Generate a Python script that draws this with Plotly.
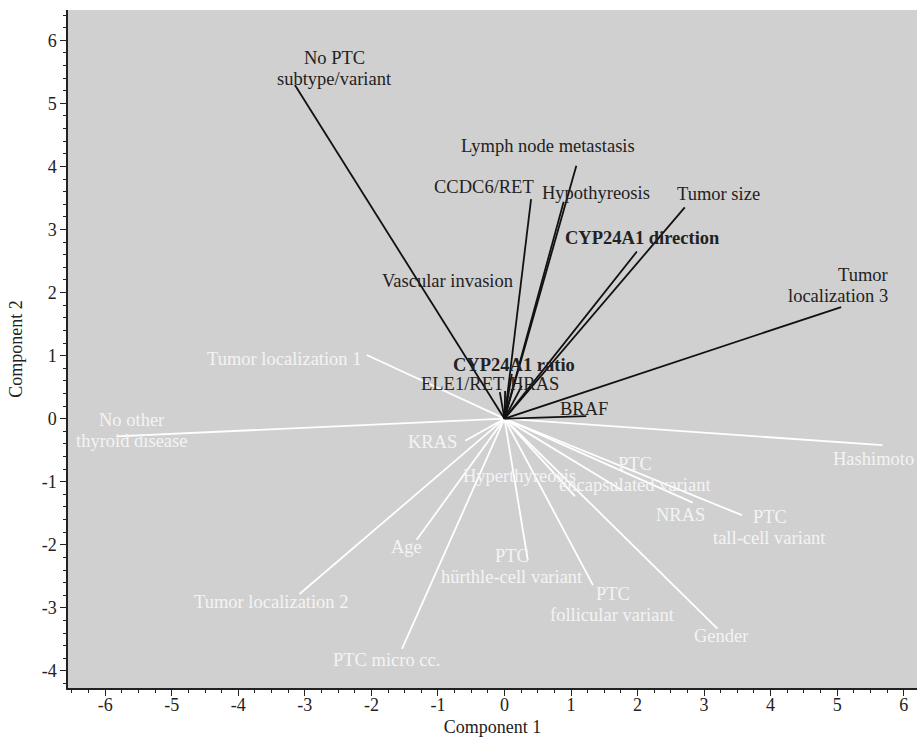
import plotly.graph_objects as go

# Loadings on component 1 / component 2 for the variables drawn in black
black_names = ["No PTC<br>subtype/variant", "Lymph node metastasis", "CCDC6/RET", "Hypothyreosis",
               "Tumor size", "<b>CYP24A1 direction</b>", "Vascular invasion", "Tumor<br>localization 3",
               "<b>CYP24A1 ratio</b>", "ELE1/RET", "HRAS", "BRAF"]
black_c1 = [-3.15, 1.08, 0.40, 0.89, 2.71, 1.99, 0.01, 5.06, 0.11, -0.07, 0.26, 1.23]
black_c2 = [5.29, 4.01, 3.48, 3.44, 3.35, 2.65, 0.44, 1.77, 0.71, 0.42, 0.52, 0.04]

# Loadings for the variables drawn in white
white_names = ["Tumor localization 1", "No other<br>thyroid disease", "KRAS", "Hashimoto",
               "PTC<br>encapsulated variant", "Hyperthyreosis", "NRAS", "PTC<br>tall-cell variant",
               "Age", "PTC<br>hürthle-cell variant", "PTC<br>follicular variant",
               "Tumor localization 2", "Gender", "PTC micro cc."]
white_c1 = [-2.07, -5.83, -0.59, 5.68, 1.77, 1.06, 2.83, 3.57, -1.32, 0.35, 1.33, -3.08, 3.20, -1.54]
white_c2 = [1.01, -0.28, -0.35, -0.42, -1.14, -1.23, -1.33, -1.53, -1.92, -2.24, -2.64, -2.78, -3.33, -3.65]

tick_vals_x = list(range(-6, 7))
tick_vals_y = list(range(-4, 7))
tick_text_x = [str(v) for v in tick_vals_x]
tick_text_y = [str(v) for v in tick_vals_y]

# Label placement (data coordinates of the label block centre) and anchoring
black_label_pos = [(-2.56, 5.56, "center"), (0.65, 4.32, "center"), (-0.31, 3.68, "center"),
                   (1.38, 3.58, "center"), (3.21, 3.56, "center"), (2.07, 2.86, "center"),
                   (-0.85, 2.19, "center"), (5.80, 2.11, "right"), (0.14, 0.85, "center"),
                   (-0.63, 0.55, "center"), (0.45, 0.55, "center"), (1.20, 0.15, "center")]
white_label_pos = [(-3.30, 0.94, "center"), (-5.60, -0.18, "center"), (-1.08, -0.37, "center"),
                   (5.55, -0.64, "center"), (1.96, -0.88, "center"), (0.23, -0.91, "center"),
                   (2.65, -1.53, "center"), (3.99, -1.73, "center"), (-1.48, -2.03, "center"),
                   (0.11, -2.35, "center"), (1.63, -2.95, "center"), (-3.50, -2.90, "center"),
                   (3.26, -3.44, "center"), (-1.78, -3.82, "center")]

FONT = "Liberation Serif, Times New Roman, serif"
LABEL_SIZE = 18.5
LINE_GAP = 21  # px between the lines of a two-line label

fig = go.Figure()

for x, y in zip(white_c1, white_c2):
    fig.add_trace(go.Scatter(x=[0, x], y=[0, y], mode="lines",
                             line=dict(color="white", width=1.8), hoverinfo="skip", showlegend=False))
for x, y in zip(black_c1, black_c2):
    fig.add_trace(go.Scatter(x=[0, x], y=[0, y], mode="lines",
                             line=dict(color="#111111", width=1.8), hoverinfo="skip", showlegend=False))


def label_annotations(names, positions, color):
    out = []
    for name, (lx, ly, anchor) in zip(names, positions):
        lines = name.split("<br>")
        n = len(lines)
        for i, line in enumerate(lines):
            shift = ((n - 1) / 2 - i) * LINE_GAP
            out.append(dict(x=lx, y=ly, yshift=shift, text=line, showarrow=False,
                            xanchor=anchor, yanchor="middle",
                            font=dict(family=FONT, size=LABEL_SIZE, color=color)))
    return out


annotations = (label_annotations(white_names, white_label_pos, "#f4f4f4")
               + label_annotations(black_names, black_label_pos, "#222222"))

fig.update_layout(
    width=918, height=745,
    margin=dict(l=68, r=1, t=10, b=57),
    paper_bgcolor="white", plot_bgcolor="#d0d0d0",
    font=dict(family=FONT, size=17, color="#222222"),
    annotations=annotations,
    xaxis=dict(range=[-6.56, 6.20], tickvals=tick_vals_x, ticktext=tick_text_x,
               ticks="outside", ticklen=6, tickcolor="#222", ticklabelstandoff=-6,
               showgrid=False, zeroline=False, showline=True,
               linecolor="#222", linewidth=1.5, mirror=False,
               minor=dict(dtick=0.25, ticks="outside", ticklen=3, tickcolor="#222"),
               title=dict(text="Component 1", font=dict(size=18), standoff=6), tickfont=dict(size=18)),
    yaxis=dict(range=[-4.27, 6.48], tickvals=tick_vals_y, ticktext=tick_text_y,
               ticks="outside", ticklen=6, tickcolor="#222",
               showgrid=False, zeroline=False, showline=True,
               linecolor="#222", linewidth=1.5, mirror=False,
               minor=dict(dtick=0.2, ticks="outside", ticklen=3, tickcolor="#222"),
               title=dict(text="Component 2", font=dict(size=18), standoff=14), tickfont=dict(size=18)),
)

fig.write_html("out.html")
